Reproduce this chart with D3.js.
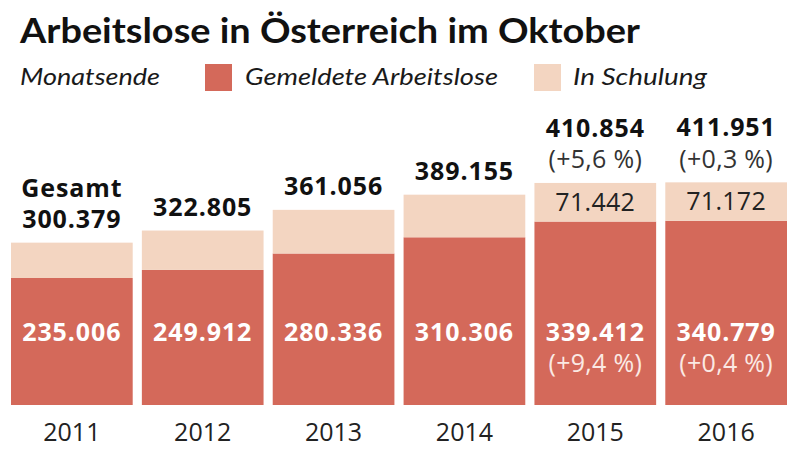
<!DOCTYPE html>
<html><head><meta charset="utf-8">
<script src="https://cdn.jsdelivr.net/npm/d3@7"></script>
<style>
body{margin:0;background:#fff;}
svg{display:block;}
</style></head>
<body>
<svg id="c" width="800" height="452"></svg>
<script>
const years = ["2011","2012","2013","2014","2015","2016"];
const gemeldet = [235006, 249912, 280336, 310306, 339412, 340779];
const schulung = [65373, 72893, 80720, 78849, 71442, 71172];
const gesamt = [300379, 322805, 361056, 389155, 410854, 411951];
const changeGesamt = [null, null, null, null, "(+5,6 %)", "(+0,3 %)"];
const changeGemeldet = [null, null, null, null, "(+9,4 %)", "(+0,4 %)"];
const showSchulung = [false, false, false, false, true, true];
const prefixGesamt = ["Gesamt", null, null, null, null, null];

const RED = "#d4695a", LIGHT = "#f3d5c1", DARK = "#1a1a1a";
const loc = d3.formatLocale({decimal: ",", thousands: ".", grouping: [3], currency: ["", "€"]});
const fmt = loc.format(",d");

const svg = d3.select("#c");
const x = d3.scaleBand().domain(years).range([11, 787]).paddingInner(0.07).paddingOuter(0);
const y = d3.scaleLinear().domain([0, 420000]).range([405, 178]);

const rows = years.map((yr, i) => ({yr, g: gemeldet[i], s: schulung[i], t: gesamt[i],
  ct: changeGesamt[i], cg: changeGemeldet[i], ss: showSchulung[i], pre: prefixGesamt[i]}));

// title
svg.append("text").attr("x", 20).attr("y", 43)
  .attr("font-family", "Lato, 'Open Sans', sans-serif").attr("font-weight", 700)
  .attr("font-size", 35).attr("fill", "#111")
  .attr("textLength", 620).attr("lengthAdjust", "spacingAndGlyphs")
  .text("Arbeitslose in Österreich im Oktober");

// legend
const lg = svg.append("g").attr("font-family", "Lato, 'Open Sans', sans-serif")
  .attr("font-style", "italic").attr("font-size", 24).attr("fill", DARK);
lg.append("text").attr("x", 20).attr("y", 85).attr("textLength", 140).attr("lengthAdjust","spacingAndGlyphs").text("Monatsende");
lg.append("rect").attr("x", 205).attr("y", 64).attr("width", 27).attr("height", 27).attr("fill", RED);
lg.append("text").attr("x", 245).attr("y", 85).attr("textLength", 253).attr("lengthAdjust","spacingAndGlyphs").text("Gemeldete Arbeitslose");
lg.append("rect").attr("x", 534).attr("y", 64).attr("width", 27).attr("height", 27).attr("fill", LIGHT);
lg.append("text").attr("x", 573).attr("y", 85).attr("textLength", 134).attr("lengthAdjust","spacingAndGlyphs").text("In Schulung");

// bars
const bars = svg.append("g");
bars.selectAll("rect.g").data(rows).join("rect").attr("class", "g")
  .attr("x", d => x(d.yr)).attr("width", x.bandwidth())
  .attr("y", d => y(d.g)).attr("height", d => y(0) - y(d.g)).attr("fill", RED);
bars.selectAll("rect.s").data(rows).join("rect").attr("class", "s")
  .attr("x", d => x(d.yr)).attr("width", x.bandwidth())
  .attr("y", d => y(d.g + d.s)).attr("height", d => y(d.g) - y(d.g + d.s)).attr("fill", LIGHT);

const cx = d => x(d.yr) + x.bandwidth() / 2;
const numFont = "'Open Sans', sans-serif";
const lab = svg.append("g").attr("font-family", numFont).attr("text-anchor", "middle");

// totals
rows.forEach(d => {
  const top = y(d.t);
  const lines = [];
  if (d.pre) lines.push({t: d.pre, w: 700});
  lines.push({t: fmt(d.t), w: 700});
  if (d.ct) lines.push({t: d.ct, w: 400});
  lines.reverse().forEach((l, k) => {
    lab.append("text").attr("x", cx(d)).attr("y", top - 14.5 - k * 31.5)
      .attr("font-weight", l.w).attr("font-size", 25).attr("fill", l.w === 700 ? "#111" : "#333")
      .attr("letter-spacing", l.w === 700 ? 0.9 : 0.3)
      .text(l.t);
  });
  // red value
  lab.append("text").attr("x", cx(d)).attr("y", y(0) - 64)
    .attr("font-weight", 700).attr("font-size", 25).attr("fill", "#fff").attr("letter-spacing", 0.9)
    .text(fmt(d.g));
  if (d.cg) lab.append("text").attr("x", cx(d)).attr("y", y(0) - 33)
    .attr("font-weight", 400).attr("font-size", 25).attr("fill", "#fbe9e4").attr("letter-spacing", 0.3).text(d.cg);
  if (d.ss) lab.append("text").attr("x", cx(d)).attr("y", (y(d.g) + y(d.t)) / 2 + 8.5)
    .attr("font-weight", 400).attr("font-size", 25).attr("fill", "#222").attr("letter-spacing", 0.3).text(fmt(d.s));
});

// x axis labels
const xa = svg.append("g").attr("transform", `translate(0,${y(0)})`)
  .call(d3.axisBottom(x).tickSize(0).tickPadding(18));
xa.select(".domain").remove();
xa.selectAll("text").attr("font-family", numFont).attr("font-size", 25).attr("fill", "#222").attr("dy", "0.71em");
</script>
</body></html>
